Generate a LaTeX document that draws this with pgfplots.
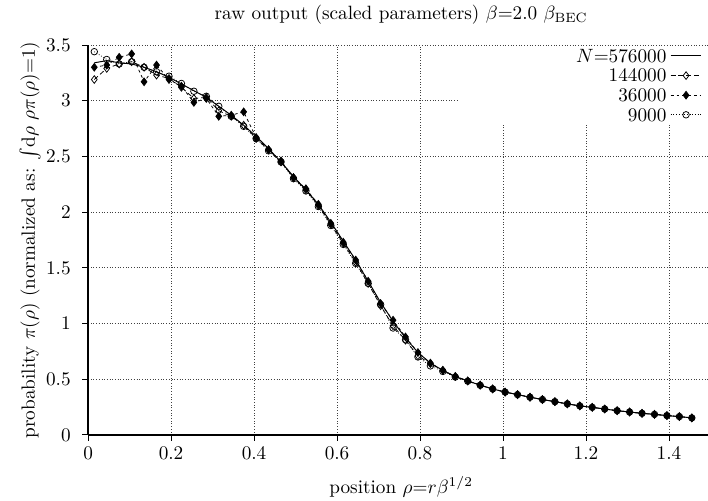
\documentclass[border=0pt]{standalone}
\usepackage{pgfplots}
\usepackage{pgfplotstable}
\pgfplotsset{compat=1.18}
\pgfplotstableread{
x      a      b      c      d
0.015  3.34   3.19   3.30   3.44
0.045  3.36   3.29   3.32   3.37
0.075  3.34   3.33   3.39   3.33
0.105  3.33   3.35   3.42   3.35
0.135  3.30   3.30   3.17   3.30
0.165  3.26   3.23   3.32   3.26
0.195  3.21   3.20   3.19   3.22
0.225  3.15   3.12   3.13   3.155
0.255  3.09   3.02   2.985  3.085
0.285  3.03   3.03   3.02   3.04
0.315  2.95   2.91   2.86   2.95
0.345  2.87   2.86   2.87   2.86
0.375  2.78   2.78   2.90   2.77
0.405  2.68   2.66   2.67   2.66
0.435  2.57   2.56   2.56   2.55
0.465  2.45   2.45   2.46   2.45
0.495  2.32   2.31   2.31   2.30
0.525  2.20   2.20   2.21   2.19
0.555  2.07   2.06   2.07   2.05
0.585  1.91   1.89   1.90   1.88
0.615  1.74   1.72   1.73   1.71
0.645  1.57   1.55   1.57   1.54
0.675  1.38   1.36   1.38   1.36
0.705  1.19   1.16   1.18   1.17
0.735  1.02   0.98   1.03   0.96
0.765  0.87   0.85   0.88   0.855
0.795  0.74   0.71   0.74   0.70
0.825  0.645  0.64   0.645  0.62
0.855  0.58   0.58   0.58   0.57
0.885  0.525  0.525  0.525  0.52
0.915  0.485  0.485  0.485  0.483
0.945  0.447  0.447  0.447  0.446
0.975  0.413  0.413  0.413  0.413
1.005  0.385  0.385  0.385  0.385
1.035  0.362  0.362  0.362  0.362
1.065  0.339  0.339  0.339  0.339
1.095  0.318  0.318  0.318  0.318
1.125  0.299  0.299  0.299  0.299
1.155  0.279  0.279  0.279  0.279
1.185  0.261  0.261  0.261  0.261
1.215  0.248  0.248  0.248  0.248
1.245  0.233  0.233  0.233  0.233
1.275  0.218  0.218  0.218  0.218
1.305  0.206  0.206  0.206  0.206
1.335  0.194  0.194  0.194  0.194
1.365  0.185  0.185  0.185  0.185
1.395  0.174  0.174  0.174  0.174
1.425  0.165  0.165  0.165  0.165
1.455  0.153  0.153  0.153  0.153
}\datatable
\begin{document}
\begin{tikzpicture}
\useasboundingbox (-45.8pt,-34.3pt) rectangle (322.4pt,226.2pt);
\begin{axis}[
  scale only axis,
  width=322.4pt, height=202.8pt,
  xmin=0, xmax=1.494, ymin=0, ymax=3.5,
  axis x line*=bottom, axis y line*=left,
  axis line style={-, line width=0.6pt},
  xtick={0,0.2,...,1.4},
  ytick={0,0.5,...,3.5},
  tick align=outside,
  major tick length=3pt,
  tick style={black, line width=0.5pt},
  yticklabel style={xshift=-2.5pt},
  grid=major,
  grid style={densely dotted, black!75, line width=0.5pt},
  title={raw output (scaled parameters) $\beta$=2.0 $\beta_{\mathrm{BEC}}$},
  title style={at={(0.505,1.049)}, anchor=center},
  xlabel={position $\rho$=$r\beta^{1/2}$},
  x label style={at={(axis description cs:0.505,-0.133)}, anchor=center},
  ylabel={probability $\pi(\rho)$ (normalized as: $\int$d$\rho$ $\rho\pi(\rho)$=1)},
  y label style={at={(axis description cs:-0.0936,0.5)}, anchor=center},
  legend cell align=right,
  legend plot pos=right,
  legend style={at={(rel axis cs:1,1)}, anchor=north east, yshift=-0.5pt,
    draw=none, fill=white, inner xsep=3pt, inner ysep=1pt, row sep=2.2pt,
    nodes={inner ysep=0.5pt, text height=6.8pt, text depth=0.2pt}},
  legend image code/.code={\draw[mark repeat=2,mark phase=2] plot coordinates {(0cm,0cm) (0.28cm,0cm) (0.56cm,0cm)};},
]
\addplot[black, line width=0.5pt] table[x=x,y=a] {\datatable};
\addlegendentry{\makebox[103pt][r]{$N$=576000}}
\addplot[black, line width=0.4pt, dash pattern=on 2.5pt off 1.5pt, mark=diamond, mark size=2pt, mark options={solid, fill=white}] table[x=x,y=b] {\datatable};
\addlegendentry{144000}
\addplot[black, line width=0.4pt, dash pattern=on 1.5pt off 1.5pt, mark=diamond*, mark size=2pt, mark options={solid}] table[x=x,y=c] {\datatable};
\addlegendentry{36000}
\addplot[black, line width=0.4pt, densely dotted, mark=o, mark size=1.7pt, mark options={solid}] table[x=x,y=d] {\datatable};
\addlegendentry{9000}
\end{axis}
\end{tikzpicture}
\end{document}
